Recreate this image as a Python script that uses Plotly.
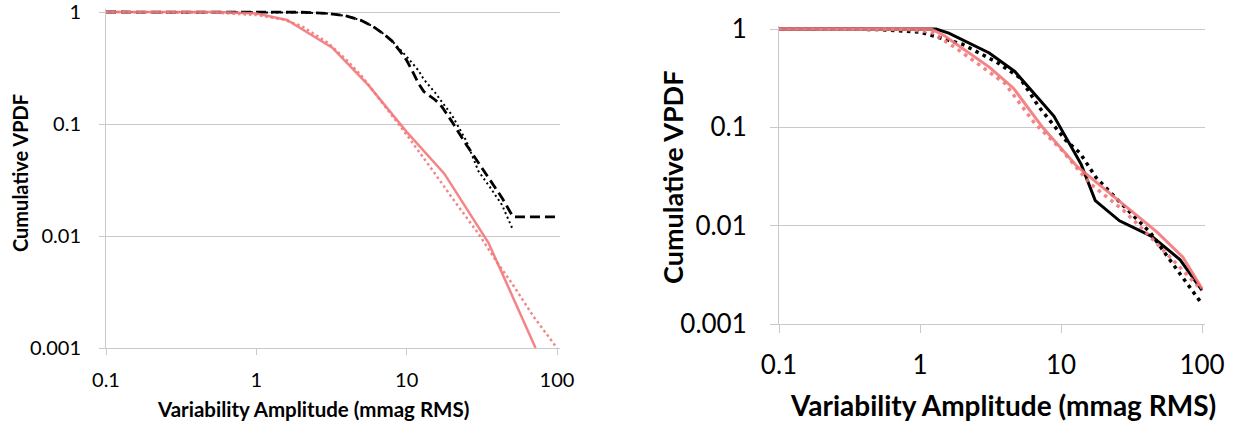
import plotly.graph_objects as go

# ---------------- data ----------------
tick_vals_x = [0.1, 1, 10, 100]
tick_text_x = ["0.1", "1", "10", "100"]
tick_vals_y = [0.001, 0.01, 0.1, 1]
tick_text_y = ["0.001", "0.01", "0.1", "1"]

x_title = "Variability Amplitude (mmag RMS)"
y_title = "Cumulative VPDF"

# left panel
left_dash_x = [0.1, 1, 2, 3, 4, 5, 6, 7, 8, 9, 10, 11, 12, 13, 15.5, 17.2, 20, 25, 30, 36, 43, 51, 100]
left_dash_y = [1, 1, 0.995, 0.97, 0.92, 0.84, 0.74, 0.64, 0.55, 0.45, 0.37, 0.29, 0.23, 0.195, 0.164, 0.142, 0.105, 0.065, 0.045, 0.032, 0.022, 0.0148, 0.0148]

left_bdot_x = [0.1, 1, 2, 3, 4, 5, 6, 7, 8, 10, 12, 13, 15.5, 17, 20, 25, 30, 36, 43, 51]
left_bdot_y = [1, 1, 0.99, 0.97, 0.92, 0.84, 0.74, 0.64, 0.55, 0.40, 0.30, 0.25, 0.19, 0.16, 0.12, 0.07, 0.038, 0.027, 0.019, 0.0113]

left_psol_x = [0.1, 0.56, 1.0, 1.6, 3.2, 5.6, 10, 17.8, 35, 72]
left_psol_y = [1, 1, 0.97, 0.85, 0.48, 0.22, 0.085, 0.036, 0.0087, 0.001]

left_pdot_x = [0.1, 0.5, 1, 1.5, 2, 3, 4, 5, 7, 10, 15, 20, 30, 40, 50, 70, 100]
left_pdot_y = [1, 0.99, 0.94, 0.86, 0.75, 0.53, 0.37, 0.27, 0.15, 0.08, 0.038, 0.022, 0.0105, 0.0058, 0.0038, 0.0019, 0.001]

# right panel
right_bsol_x = [0.1, 1.3, 1.6, 3.1, 4.7, 8.9, 13.9, 17.5, 26, 44, 70, 100]
right_bsol_y = [1, 1, 0.91, 0.57, 0.37, 0.13, 0.042, 0.018, 0.0112, 0.0078, 0.0045, 0.0022]

right_bdot_x = [0.1, 0.5, 1, 2, 3.5, 5.1, 7, 10.8, 13.6, 17.7, 25, 34.6, 43, 56, 100]
right_bdot_y = [1, 0.99, 0.93, 0.7, 0.46, 0.32, 0.16, 0.074, 0.055, 0.031, 0.0185, 0.0115, 0.0085, 0.005, 0.0016]

right_psol_x = [0.1, 1.2, 1.5, 3.1, 4.6, 7.4, 13, 29, 48, 73, 100]
right_psol_y = [1, 1, 0.85, 0.41, 0.25, 0.1, 0.04, 0.0154, 0.0086, 0.0048, 0.0023]

right_pdot_x = [0.1, 0.8, 1.2, 1.8, 4.0, 6.5, 10, 16, 27.5, 38, 66, 100]
right_pdot_y = [1, 0.99, 0.93, 0.64, 0.28, 0.11, 0.06, 0.027, 0.0145, 0.0092, 0.0041, 0.0022]

# ---------------- styling ----------------
W, H = 1234, 425
PINK = "rgba(242,120,122,0.9)"
BLACK = "#000000"
GRID = "#c9c9c9"
FONT = "Lato"


def xdom(a, b):
    return [a / W, b / W]


def ydom(top, bottom):
    return [1 - bottom / H, 1 - top / H]


fig = go.Figure()

# left traces
fig.add_trace(go.Scatter(x=left_bdot_x, y=left_bdot_y, mode="lines", xaxis="x", yaxis="y",
                         line=dict(color=BLACK, width=2, dash="2px,3px")))
fig.add_trace(go.Scatter(x=left_dash_x, y=left_dash_y, mode="lines", xaxis="x", yaxis="y",
                         line=dict(color=BLACK, width=2.8, dash="10px,5px")))
fig.add_trace(go.Scatter(x=left_pdot_x, y=left_pdot_y, mode="lines", xaxis="x", yaxis="y",
                         line=dict(color=PINK, width=2.5, dash="2.5px,3px")))
fig.add_trace(go.Scatter(x=left_psol_x, y=left_psol_y, mode="lines", xaxis="x", yaxis="y",
                         line=dict(color=PINK, width=2.5)))

# right traces
fig.add_trace(go.Scatter(x=right_bsol_x, y=right_bsol_y, mode="lines", xaxis="x2", yaxis="y2",
                         line=dict(color=BLACK, width=3)))
fig.add_trace(go.Scatter(x=right_bdot_x, y=right_bdot_y, mode="lines", xaxis="x2", yaxis="y2",
                         line=dict(color=BLACK, width=3.5, dash="3.5px,4.5px")))
fig.add_trace(go.Scatter(x=right_pdot_x, y=right_pdot_y, mode="lines", xaxis="x2", yaxis="y2",
                         line=dict(color=PINK, width=3.5, dash="3.5px,4.5px")))
fig.add_trace(go.Scatter(x=right_psol_x, y=right_psol_y, mode="lines", xaxis="x2", yaxis="y2",
                         line=dict(color=PINK, width=3)))

# geometry (pixels)
L = dict(x0=106, x1=557, y0=12, y1=348, pad=3)
R = dict(x0=779, x1=1202, y0=29, y1=324, pad=3)


def axes(p, tick_size, xstand, ystand, ticklen):
    xdec = (p["x1"] - p["x0"]) / 3.0
    ydec = (p["y1"] - p["y0"]) / 3.0
    xa = dict(type="log", range=[-1, 2 + p["pad"] / xdec],
              domain=xdom(p["x0"], p["x1"] + p["pad"]),
              tickvals=tick_vals_x, ticktext=tick_text_x,
              showgrid=False, zeroline=False, showline=True, linecolor=GRID, linewidth=1,
              ticks="outside", ticklen=ticklen, tickcolor=GRID, tickwidth=1,
              tickfont=dict(family=FONT, size=tick_size, color="#000"),
              ticklabelstandoff=xstand, ticklabeloverflow="allow",
              fixedrange=True, automargin=False)
    ya = dict(type="log", range=[-3, 0 + p["pad"] / ydec],
              domain=ydom(p["y0"] - p["pad"], p["y1"]),
              tickvals=tick_vals_y, ticktext=tick_text_y,
              showgrid=True, gridcolor=GRID, gridwidth=1, zeroline=False,
              showline=True, linecolor=GRID, linewidth=1,
              ticks="outside", ticklen=ticklen, tickcolor=GRID, tickwidth=1,
              tickfont=dict(family=FONT, size=tick_size, color="#000"),
              ticklabelstandoff=ystand, ticklabeloverflow="allow",
              fixedrange=True, automargin=False)
    return xa, ya


xa1, ya1 = axes(L, 20, 8, 14, 6)
xa2, ya2 = axes(R, 26, 10, 18, 8)
xa2["anchor"] = "y2"
ya2["anchor"] = "x2"
xa1["anchor"] = "y"
ya1["anchor"] = "x"

annotations = [
    dict(text="<b>" + x_title + "</b>", x=313 / W, y=1 - 409 / H, xref="paper", yref="paper",
         showarrow=False, font=dict(family=FONT, size=20.5, color="#000"), xanchor="center", yanchor="middle"),
    dict(text="<b>" + y_title + "</b>", x=20 / W, y=1 - 173 / H, xref="paper", yref="paper",
         showarrow=False, textangle=-90, font=dict(family=FONT, size=20, color="#000"),
         xanchor="center", yanchor="middle"),
    dict(text="<b>" + x_title + "</b>", x=1003 / W, y=1 - 405 / H, xref="paper", yref="paper",
         showarrow=False, font=dict(family=FONT, size=28, color="#000"), xanchor="center", yanchor="middle"),
    dict(text="<b>" + y_title + "</b>", x=672 / W, y=1 - 177 / H, xref="paper", yref="paper",
         showarrow=False, textangle=-90, font=dict(family=FONT, size=27, color="#000"),
         xanchor="center", yanchor="middle"),
]

fig.update_layout(
    width=W, height=H, autosize=False,
    margin=dict(l=0, r=0, t=0, b=0, pad=0),
    paper_bgcolor="white", plot_bgcolor="white",
    showlegend=False,
    xaxis=xa1, yaxis=ya1, xaxis2=xa2, yaxis2=ya2,
    annotations=annotations,
)

fig.write_html("out.html", config={"displayModeBar": False},
               post_script="document.body.style.margin='0';document.body.style.overflow='hidden';")
